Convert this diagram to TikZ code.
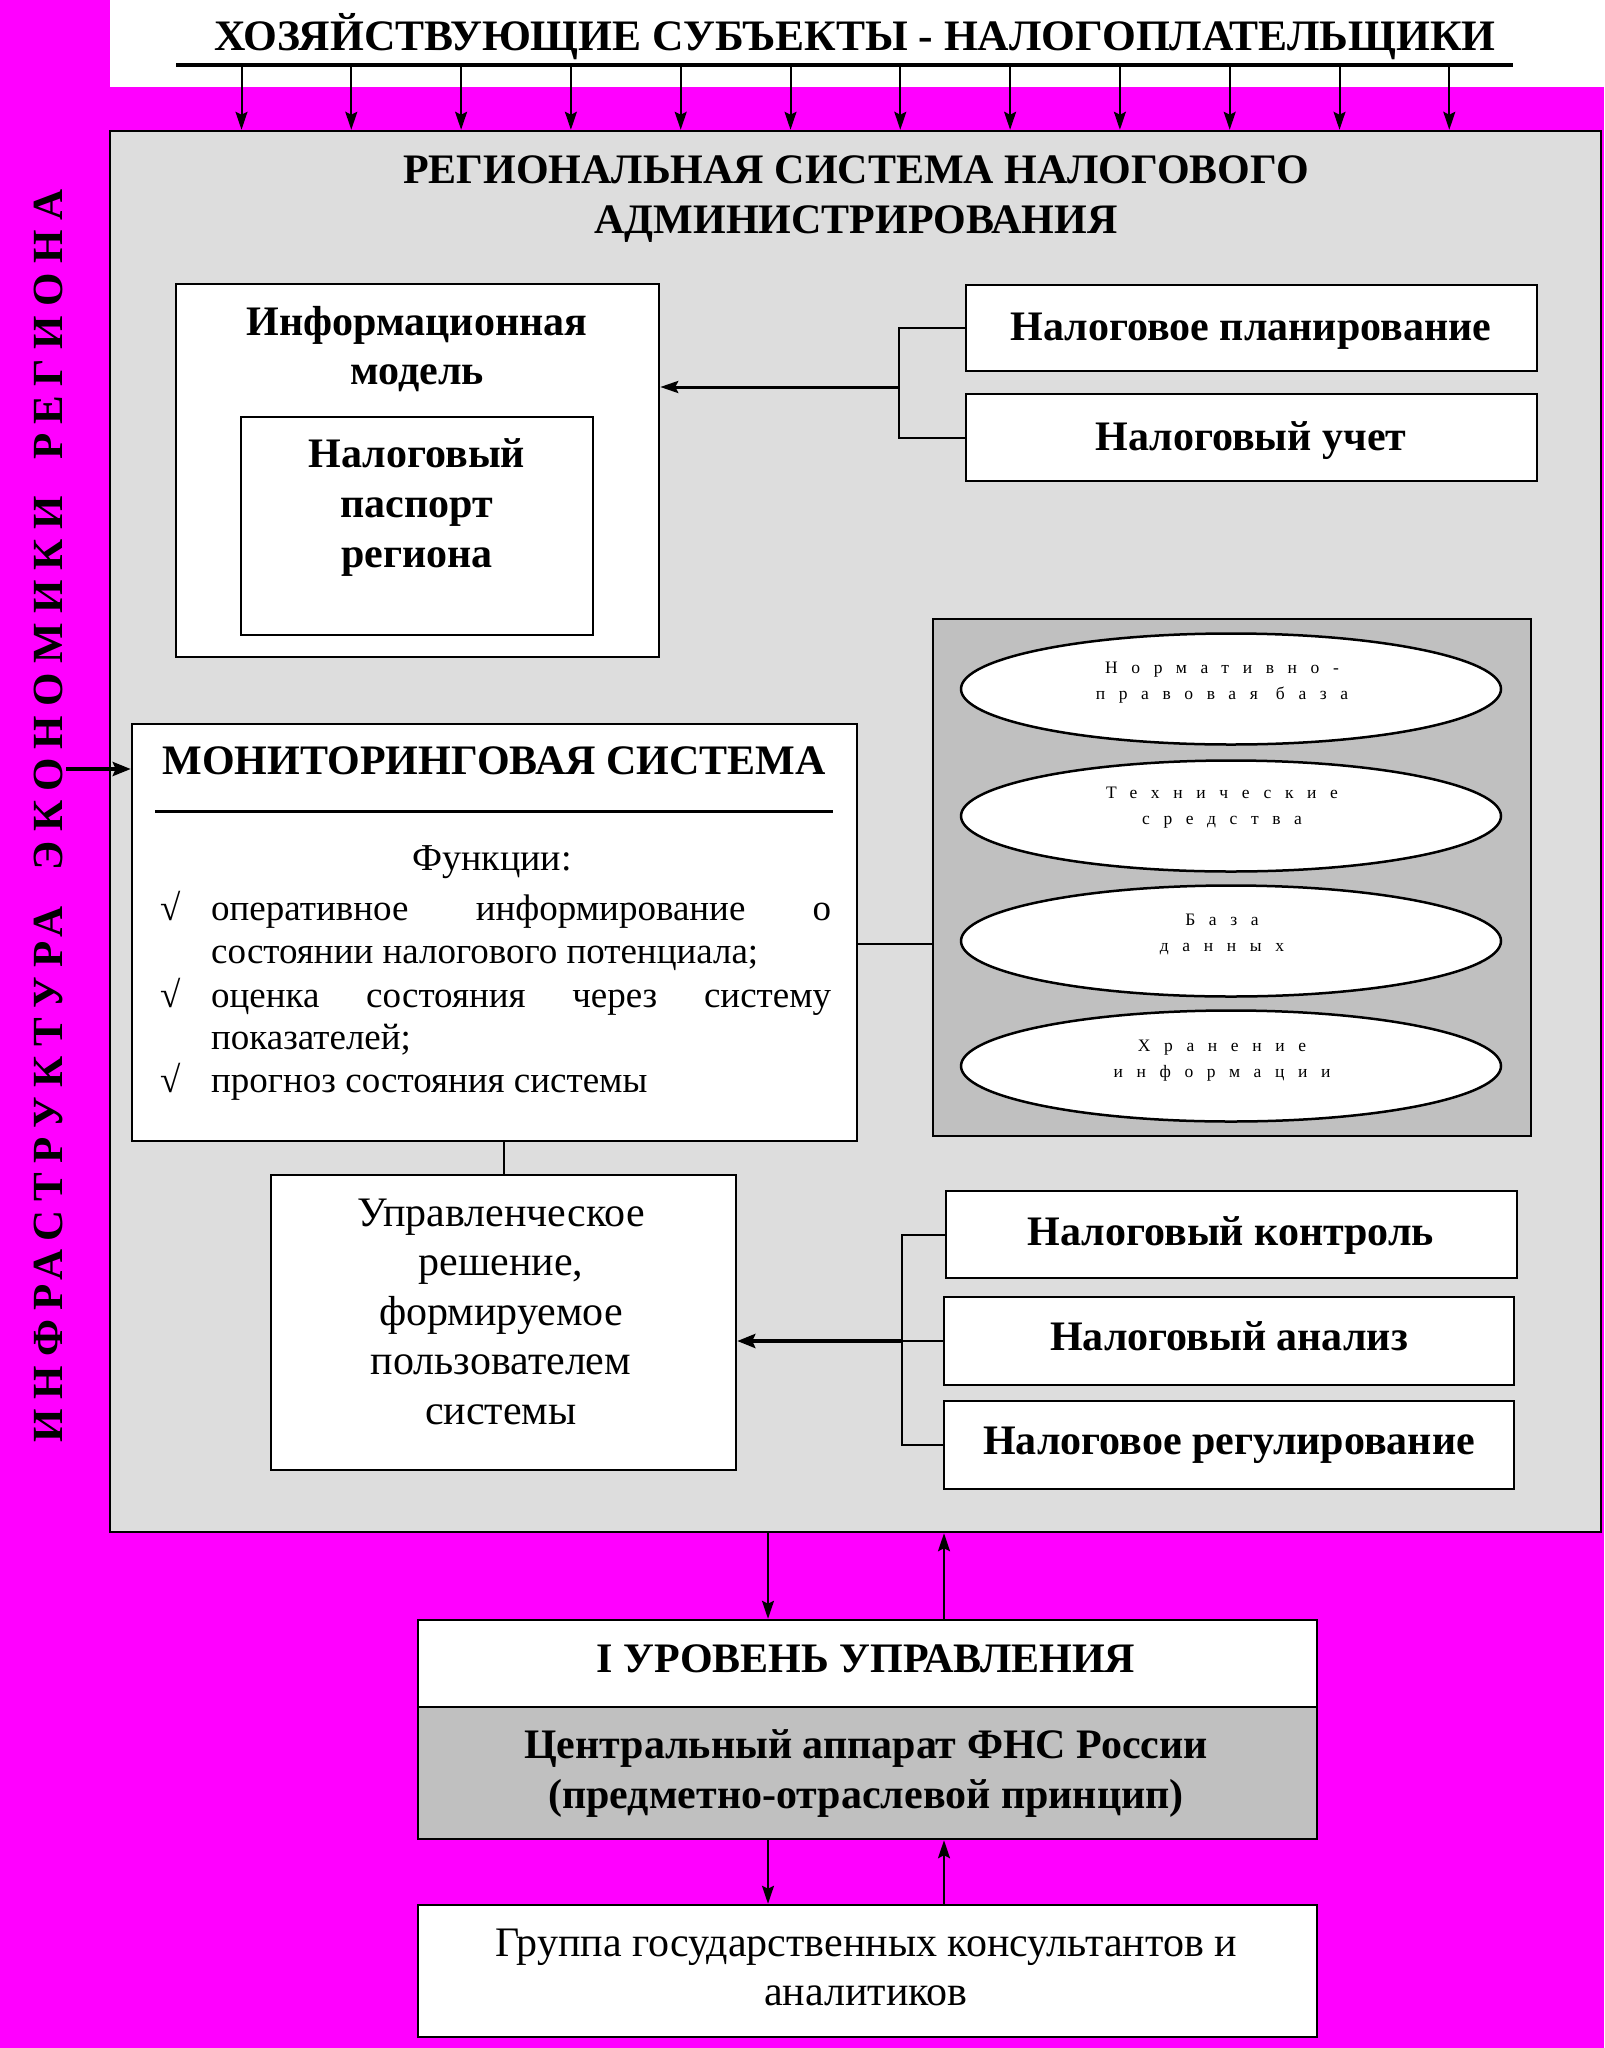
\documentclass[tikz,border=0pt]{standalone}
\usepackage{fontspec}
\setmainfont{Liberation Serif}
\newfontfamily\spacedfont[LetterSpace=78]{Liberation Serif}
\newfontfamily\vertfont[LetterSpace=22]{Liberation Serif}
\usetikzlibrary{arrows.meta,calc,shapes.geometric}
\definecolor{mag}{HTML}{FF00FF}
\definecolor{lgrey}{HTML}{DDDDDD}
\definecolor{mgrey}{HTML}{C0C0C0}
\newcommand{\fsz}[2]{\fontsize{#1}{#2}\selectfont}
\newcommand{\stk}[1]{\begin{tabular}[t]{@{}c@{}}#1\end{tabular}}
\tikzset{
  box/.style={draw=black, line width=2.5pt, fill=white, inner sep=0pt, rectangle},
  hd/.style={font=\fsz{42}{50}\bfseries, inner sep=0pt, anchor=base},
  rg/.style={font=\fsz{42}{49.5}, inner sep=0pt, anchor=base},
  fn/.style={font=\fsz{37}{40}, inner sep=0pt, anchor=base west},
  el/.style={ellipse, draw=black, line width=2.5pt, fill=white, minimum width=540pt, minimum height=111pt, inner sep=0pt},
  et/.style={font=\spacedfont\fsz{17.5}{26}, inner sep=0pt, anchor=base},
  conn/.style={line width=2pt},
  arr/.style={line width=2pt, -{Stealth[length=18pt,width=12pt,inset=3pt]}},
  thickarr/.style={line width=4pt, -{Stealth[length=18pt,width=14pt,inset=3pt]}},
  thinarr/.style={line width=2pt, -{Stealth[length=18pt,width=12pt,inset=3pt]}},
}
\begin{document}
\begin{tikzpicture}[x=1pt,y=-1pt]
\useasboundingbox (0,0) rectangle (1604,2048);
\fill[mag] (0,0) rectangle (1604,2048);
% top band
\node[fill=white, minimum width=1494pt, minimum height=87pt, inner sep=0pt] (band) at (857,43.5) {};
\node[hd, font=\fsz{43.5}{50}\bfseries] (topt) at (855,50) {ХОЗЯЙСТВУЮЩИЕ СУБЪЕКТЫ - НАЛОГОПЛАТЕЛЬЩИКИ};
\node[fill=black, minimum width=1337pt, minimum height=4pt, inner sep=0pt] (bar) at (844.5,65) {};
% grey system box
\node[box, fill=lgrey, minimum width=1491pt, minimum height=1401pt] (grey) at (855.5,831.5) {};
\foreach \i in {0,...,11}{
  \coordinate (ta\i) at ({241.5+109.8*\i},0);
  \draw[thinarr] (bar.south -| ta\i) -- (grey.north -| ta\i);
}
% vertical text
\node[rotate=90, inner sep=0pt, font=\vertfont\fsz{43}{43}\bfseries] (vt) at (48,816) {ИНФРАСТРУКТУРА\hspace{16pt} ЭКОНОМИКИ\hspace{16pt} РЕГИОНА};
% title
\node[hd] (title) at (856,183) {\stk{РЕГИОНАЛЬНАЯ СИСТЕМА НАЛОГОВОГО\\АДМИНИСТРИРОВАНИЯ}};
% information model
\node[box, minimum width=483pt, minimum height=373pt] (info) at (417.5,470.5) {};
\node[hd, font=\fsz{42}{49}\bfseries] (infot) at (417,335) {\stk{Информационная\\модель}};
\node[box, minimum width=352pt, minimum height=218pt] (pass) at (417,526) {};
\node[hd] (passt) at (417,467) {\stk{Налоговый\\паспорт\\региона}};
% planning / accounting
\node[box, minimum width=571pt, minimum height=86pt] (p1) at (1251.5,328) {};
\node[hd] (p1t) at (1251,340) {Налоговое планирование};
\node[box, minimum width=571pt, minimum height=87pt] (p2) at (1251.5,437.5) {};
\node[hd] (p2t) at (1251,450) {Налоговый учет};
\coordinate (j1) at (899,387);
\draw[conn] (p1.west) -- (p1.west -| j1) -- (p2.west -| j1) -- (p2.west);
\draw[arr, line width=3pt] (j1) -- (info.east |- j1);
% monitoring system
\node[box, minimum width=725pt, minimum height=417pt] (mon) at (494.5,932.5) {};
\node[hd] (mont) at (494,774) {МОНИТОРИНГОВАЯ СИСТЕМА};
\coordinate (r1) at (155,811);
\coordinate (r2) at (833,811);
\draw[line width=3pt] (r1) -- (r2);
\node[fn, anchor=base, font=\fsz{38}{40}] (funct) at (492,870) {Функции:};
\node[fn] (c1) at (160,920) {√};
\node[fn] (c2) at (160,1007) {√};
\node[fn] (c3) at (160,1092) {√};
\node[fn] (f1) at (211,920) {\makebox[620pt][s]{оперативное информирование о}};
\node[fn] (f2) at (211,963) {состоянии налогового потенциала;};
\node[fn] (f3) at (211,1007) {\makebox[620pt][s]{оценка состояния через систему}};
\node[fn] (f4) at (211,1049) {показателей;};
\node[fn] (f5) at (211,1092) {прогноз состояния системы};
% ellipse panel
\node[box, fill=mgrey, minimum width=598pt, minimum height=517pt] (cont) at (1232,877.5) {};
\node[el] (e1) at (1231,689) {};
\node[el] (e2) at (1231,816) {};
\node[el] (e3) at (1231,941) {};
\node[el] (e4) at (1231,1066) {};
\node[et] (e1t) at (1222,673) {\stk{Нормативно-\\правовая база}};
\node[et] (e2t) at (1222,798) {\stk{Технические\\средства}};
\node[et] (e3t) at (1222,925) {\stk{База\\данных}};
\node[et] (e4t) at (1222,1051) {\stk{Хранение\\информации}};
\coordinate (j2) at (857,944);
\draw[conn] (j2) -- (j2 -| cont.west);
% left arrow into monitoring
\coordinate (la) at (66,769);
\draw[thickarr] (la) -- (la -| mon.west);
% management decision
\node[box, minimum width=465pt, minimum height=295pt] (upr) at (503.5,1322.5) {};
\node[rg] (uprt) at (501,1226) {\stk{Управленческое\\решение,\\формируемое\\пользователем\\системы}};
\draw[conn] (upr.north) -- (upr.north |- mon.south);
% control / analysis / regulation
\node[box, minimum width=571pt, minimum height=87pt] (nk) at (1231.5,1234.5) {};
\node[hd] (nkt) at (1231,1245) {Налоговый контроль};
\node[box, minimum width=570pt, minimum height=88pt] (na) at (1229,1341) {};
\node[hd] (nat) at (1229,1350) {Налоговый анализ};
\node[box, minimum width=570pt, minimum height=88pt] (nr) at (1229,1445) {};
\node[hd] (nrt) at (1229,1454) {Налоговое регулирование};
\coordinate (j3) at (902,1341);
\draw[conn] (nk.west) -- (nk.west -| j3) -- (nr.west -| j3) -- (nr.west);
\draw[conn] (na.west) -- (j3);
\draw[thickarr] (j3) -- (upr.east |- j3);
% level I
\node[box, minimum width=899pt, minimum height=87pt] (lvl) at (867.5,1663.5) {};
\node[box, fill=mgrey, minimum width=899pt, minimum height=132pt] (fns) at (867.5,1773) {};
\node[hd] (lvlt) at (866,1672) {I УРОВЕНЬ УПРАВЛЕНИЯ};
\node[hd] (fnst) at (866,1758) {\stk{Центральный аппарат ФНС России\\(предметно-отраслевой принцип)}};
\node[box, minimum width=899pt, minimum height=132pt] (grp) at (867.5,1971) {};
\node[rg, font=\fsz{42}{49}] (grpt) at (866,1956) {\stk{Группа государственных консультантов и\\аналитиков}};
\coordinate (xd) at (768,0);
\coordinate (xu) at (944,0);
\draw[arr] (grey.south -| xd) -- (lvl.north -| xd);
\draw[arr] (lvl.north -| xu) -- (grey.south -| xu);
\draw[arr] (fns.south -| xd) -- (grp.north -| xd);
\draw[arr] (grp.north -| xu) -- (fns.south -| xu);
\end{tikzpicture}
\end{document}
